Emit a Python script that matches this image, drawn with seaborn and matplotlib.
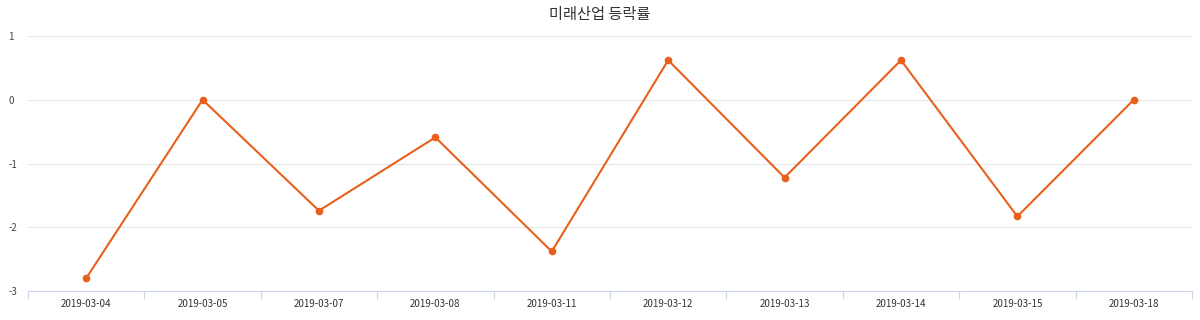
import matplotlib
matplotlib.use("Agg")
import matplotlib.pyplot as plt
import seaborn as sns
import pandas as pd
import numpy as np

dates = ["2019-03-04", "2019-03-05", "2019-03-07", "2019-03-08", "2019-03-11",
         "2019-03-12", "2019-03-13", "2019-03-14", "2019-03-15", "2019-03-18"]
changes = [-2.80, 0.0, -1.74, -0.59, -2.38, 0.62, -1.22, 0.62, -1.83, 0.0]
title = "미래산업 등락률"

sns.set_theme(style="white")
plt.rcParams['font.family'] = ['Noto Sans CJK KR', 'DejaVu Sans']

df = pd.DataFrame({"pos": np.arange(len(dates)), "date": dates, "change": changes})

fig = plt.figure(figsize=(12, 3.2), dpi=100)
ax = fig.add_axes([0.0233, 0.0906, 0.97, 0.7969])
color = "#E8601C"
sns.lineplot(data=df, x="pos", y="change", ax=ax, color=color, linewidth=1.5,
             marker="o", markersize=5.5, markeredgewidth=0, markeredgecolor=color)

ax.set_xlim(-0.5, len(dates) - 0.5)
ax.set_ylim(-3, 1)
ax.set_yticks([-3, -2, -1, 0, 1])
ax.set_yticklabels(["-3", "-2", "-1", "0", "1"])
ax.yaxis.grid(True, color="#e6e6e6", linewidth=0.8)
ax.set_axisbelow(True)
ax.set_xticks(df["pos"])
ax.set_xticklabels(dates)
ax.set_xticks(np.arange(len(dates) + 1) - 0.5, minor=True)
ax.tick_params(axis="x", which="major", bottom=False, length=0, labelsize=7, colors="#333333", pad=6)
ax.tick_params(axis="x", which="minor", bottom=True, length=6, color="#ccd6eb", width=0.8, direction="out")
ax.tick_params(axis="y", length=0, labelsize=7, colors="#444444", pad=14)
for lbl in ax.get_yticklabels():
    lbl.set_horizontalalignment("left")
ax.set_xlabel("")
ax.set_ylabel("")
for s in ["top", "right", "left"]:
    ax.spines[s].set_visible(False)
ax.spines["bottom"].set_color("#ccd6eb")
ax.spines["bottom"].set_linewidth(0.8)
fig.text(0.5, 0.955, title, ha="center", va="center", fontsize=11, color="#333333")
fig.savefig("out.png", dpi=100)
